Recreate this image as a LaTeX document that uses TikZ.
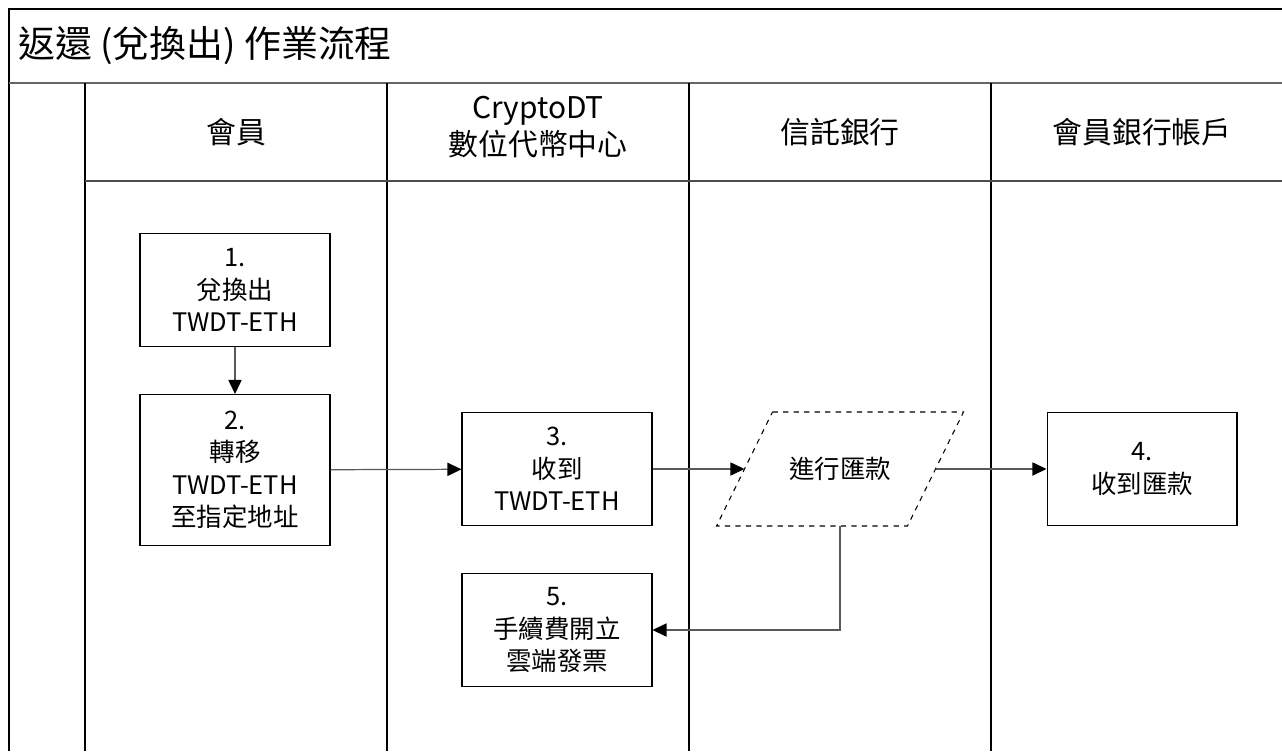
\documentclass[tikz,border=0pt]{standalone}
\usepackage{fontspec}
\setmainfont{Noto Sans CJK TC}
\usetikzlibrary{calc, arrows.meta, positioning}

\begin{document}
\begin{tikzpicture}[
    x=0.02cm, y=-0.02cm,
    stepbox/.style={rectangle, draw, line width=0.6pt, align=center, inner sep=2pt,
        minimum width = 3.8cm, minimum height = 2.26cm,
        font=\fontsize{14.5}{18.5}\selectfont},
    lanetitle/.style={align=center, font=\fontsize{17}{21}\selectfont},
    lane/.style={line width=0.8pt},
    flow/.style={draw=black!65, line width=0.7pt,
        -{Triangle[length=8pt, width=7.5pt, color=black]}}
]
    \useasboundingbox (0,0) rectangle (1282,751);

    % Frame ------------------------------------------------------

    \draw[lane] (9,751) -- (9,9) -- (1282,9);
    \draw[line width=1.6pt, black!60] (9,83) -- (1282,83);
    \foreach \x in {85,387,689,991}
        \draw[lane] (\x,83) -- (\x,751);
    \draw[lane, black!70] (85,181) -- (1282,181);

    % Nodes ------------------------------------------------------

    \node[anchor=west, inner sep=0, font=\fontsize{21}{25}\selectfont] (title) at (18,46) {返還 (兌換出) 作業流程};

    \node[lanetitle] (member) at (236,132) {會員};
    \node[lanetitle] (center) at (538,127) {CryptoDT\\數位代幣中心};
    \node[lanetitle] (trust) at (840,132) {信託銀行};
    \node[lanetitle] (account) at (1142,132) {會員銀行帳戶};

    \node[stepbox] (n1) at (235,290) {1.\\兌換出\\TWDT-ETH};
    \node[stepbox, minimum height = 3.02cm] (n2) at (235,470) {2.\\轉移\\TWDT-ETH\\至指定地址};
    \node[stepbox] (n3) at (557,469) {3.\\收到\\TWDT-ETH};
    \node[stepbox, draw=none] (pay) at (840,469) {進行匯款};
    \node[stepbox] (n4) at (1142,469) {4.\\收到匯款};
    \node[stepbox] (n5) at (557,630) {5.\\手續費開立\\雲端發票};

    \draw[dashed, line width=0.6pt] ($(pay.north west)+(28,0)$) -- ($(pay.north east)+(28,0)$)
        -- ($(pay.south east)+(-28,0)$) -- ($(pay.south west)+(-28,0)$) -- cycle;

    % Connectors -------------------------------------------------

    \draw[flow] (n1) -- (n2);
    \draw[flow] (n2) -- (n3);
    \draw[flow] (n3) -- (pay);
    \draw[flow] (pay) -- (n4);
    \draw[flow] (pay.south) |- (n5);

\end{tikzpicture}
\end{document}
